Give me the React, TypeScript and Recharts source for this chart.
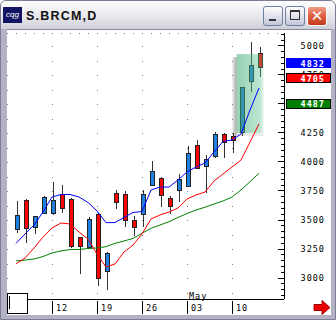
import React from 'react';
import { ComposedChart, Bar, Line, XAxis, YAxis, CartesianGrid, ReferenceArea, ReferenceLine } from 'recharts';

// daily bars, Apr 5 - May 13
const dates = [
  '04-05', '04-06', '04-07', '04-08',
  '04-12', '04-13', '04-14', '04-15', '04-16',
  '04-19', '04-20', '04-21', '04-22', '04-23',
  '04-26', '04-27', '04-28', '04-29', '04-30',
  '05-03', '05-04', '05-05', '05-06', '05-07',
  '05-10', '05-11', '05-12', '05-13',
];
const opens = [3420, 3666, 3437, 3558, 3552, 3718, 3678, 3351, 3265, 3549, 3052, 3730, 3724, 3500, 3546, 3799, 3862, 3684, 3753, 3787, 4138, 3960, 4046, 4241, 4220, 4256, 4690, 4937];
const highs = [3666, 3681, 3534, 3710, 3830, 3802, 3687, 3355, 3529, 3563, 3227, 3759, 3753, 3534, 3759, 4009, 3870, 3707, 3897, 4138, 4190, 4060, 4261, 4247, 4247, 4645, 5037, 4994];
const lows = [3391, 3299, 3379, 3552, 3543, 3558, 3256, 3037, 3247, 2931, 2897, 3592, 3437, 3362, 3437, 3793, 3615, 3552, 3658, 3782, 3940, 3730, 4032, 4032, 4075, 4224, 4601, 4730];
const closes = [3543, 3428, 3529, 3696, 3666, 3601, 3270, 3270, 3506, 2994, 3213, 3651, 3494, 3437, 3724, 3920, 3713, 3615, 3851, 4075, 3946, 4023, 4241, 4170, 4185, 4641, 4830, 4816];
const maFast = [3299, 3379, 3457, 3569, 3698, 3720, 3720, 3698, 3651, 3578, 3477, 3478, 3522, 3565, 3573, 3759, 3784, 3784, 3845, 3914, 3957, 3991, 4086, 4177, 4190, 4241, 4448, 4638];
const maMid = [3121, 3172, 3259, 3353, 3431, 3474, 3466, 3397, 3336, 3207, 3095, 3121, 3224, 3284, 3379, 3509, 3543, 3569, 3603, 3681, 3716, 3741, 3836, 3897, 3957, 4017, 4172, 4328];
const maSlow = [3147, 3155, 3164, 3185, 3216, 3233, 3246, 3246, 3254, 3259, 3270, 3299, 3319, 3341, 3385, 3428, 3457, 3485, 3522, 3556, 3586, 3610, 3638, 3664, 3698, 3759, 3830, 3903];

const weekTicks = ['04-12', '04-19', '04-26', '05-03', '05-10'];
const monthLabels: Record<string, string> = { '05-03': 'May' };
const majorTicks = [3000, 3250, 3500, 3750, 4000, 4250, 4500, 4750, 5000];
const minorTicks = [
  2850, 2900, 2950, 3000, 3050, 3100, 3150, 3200, 3250, 3300, 3350, 3400, 3450, 3500, 3550, 3600,
  3650, 3700, 3750, 3800, 3850, 3900, 3950, 4000, 4050, 4100, 4150, 4200, 4250, 4300, 4350, 4400,
  4450, 4500, 4550, 4600, 4650, 4700, 4750, 4800, 4850, 4900, 4950, 5000, 5050, 5100,
];
const tagValues = [4832, 4705, 4487];
const tagColors = ['#0000ff', '#ff0000', '#008000'];
const tagBorders = ['#0000ff', '#000000', '#000000'];

const rows = dates.map((d, i) => ({
  d, o: opens[i], h: highs[i], l: lows[i], c: closes[i],
  fast: maFast[i], mid: maMid[i], slow: maSlow[i],
}));

const MONO = '"DejaVu Sans Mono", monospace';

function Candle(props: any) {
  const { x, y, width, height, payload } = props;
  const { o, h, l, c } = payload;
  const top = Math.min(y, y + height);
  const hh = Math.abs(height);
  const cx = Math.round(x + width / 2) + 0.5;
  const span = h - l || 1;
  const toY = (v: number) => top + ((h - v) / span) * hh;
  const b1 = toY(Math.max(o, c));
  const b2 = toY(Math.min(o, c));
  return (
    <g shapeRendering="crispEdges">
      <line x1={cx} x2={cx} y1={top} y2={top + hh} stroke="#333" />
      <rect x={cx - 2} y={b1} width={4} height={Math.max(b2 - b1, 1)} fill={c >= o ? '#1f80e4' : '#ff0000'} stroke="#222" />
    </g>
  );
}

function PriceTick(props: any) {
  const { x, y, payload } = props;
  const major = payload.value % 250 === 0;
  return (
    <g>
      <line x1={x - (major ? 6 : 3)} x2={x} y1={y} y2={y} stroke="#000" shapeRendering="crispEdges" />
      {major && (
        <text x={x + 41} y={y + 3} textAnchor="end" fontFamily={MONO} fontSize={8.5} letterSpacing={1} fill="#000">
          {payload.value}
        </text>
      )}
    </g>
  );
}

function LeftTick(props: any) {
  const { x, y, payload } = props;
  const major = payload.value % 250 === 0;
  return <line x1={x} x2={x + (major ? 6 : 3)} y1={y} y2={y} stroke="#000" shapeRendering="crispEdges" />;
}

function DateTick(props: any) {
  const { x, y, payload } = props;
  const day = payload.value.slice(3);
  const month = monthLabels[payload.value];
  return (
    <g>
      <line x1={x} x2={x} y1={y} y2={y + 13} stroke="#000" shapeRendering="crispEdges" />
      <text x={x + 4} y={y + 10} fontFamily={MONO} fontSize={8.5} letterSpacing={1} fill="#000">{day}</text>
      {month && (
        <text x={x + 2} y={y - 2} fontFamily={MONO} fontSize={8.5} letterSpacing={1} fill="#000">{month}</text>
      )}
    </g>
  );
}

function Tag(props: any, value: number, fill: string, border: string) {
  const right = Math.max(props.x1, props.x2);
  const yy = props.y1;
  return (
    <g>
      <rect x={right + 2.5} y={yy - 6.5} width={44} height={9} fill={fill} stroke={border} shapeRendering="crispEdges" />
      <text x={right + 41} y={yy + 1.5} textAnchor="end" fontFamily={MONO} fontSize={8.5} fontWeight="bold" letterSpacing={1} fill="#fff">
        {value}
      </text>
    </g>
  );
}

function Highlight(props: any) {
  const { x, y, width, height } = props;
  return (
    <g>
      <rect x={x - 5} y={y + 3} width={5} height={height} fill="url(#hlShadow)" />
      <rect x={x} y={y + height} width={width} height={3} fill="#000" opacity={0.08} />
      <rect x={x} y={y} width={width} height={height} fill="url(#hlFill)" />
    </g>
  );
}

const btn: React.CSSProperties = {
  position: 'absolute', top: 5, width: 20, height: 20, boxSizing: 'border-box',
  border: '1px solid #6f7ea6', borderRadius: 3,
  background: 'linear-gradient(#ffffff, #dcdde8 60%, #c4c6d6)',
};

export default function App() {
  return (
    <div style={{ position: 'absolute', left: 0, top: 0, width: 336, height: 320, overflow: 'hidden', background: '#b2b2c4', boxSizing: 'border-box', border: '1px solid #7c7c94', borderRadius: '6px 6px 0 0' }}>
      {/* title bar */}
      <div style={{ position: 'absolute', left: 0, top: 0, width: 334, height: 28, background: 'linear-gradient(#fdfdfd, #ececf0 45%, #cfcfd8)' }} />
      <div style={{ position: 'absolute', left: 2, top: 6, width: 19, height: 16, background: '#141464', color: '#fff', fontFamily: 'Liberation Sans, sans-serif', fontSize: 8, fontStyle: 'italic', lineHeight: '16px', textAlign: 'center' }}>cqg</div>
      <div style={{ position: 'absolute', left: 25, top: 8, fontFamily: '"Liberation Sans", Arial, sans-serif', fontWeight: 'bold', fontSize: 12.5, letterSpacing: 1.2, color: '#111' }}>S.BRCM,D</div>
      <div style={{ ...btn, left: 262 }}>
        <div style={{ position: 'absolute', left: 5, top: 12, width: 7, height: 2, background: '#333' }} />
      </div>
      <div style={{ ...btn, left: 284 }}>
        <div style={{ position: 'absolute', left: 4, top: 3, width: 10, height: 10, boxSizing: 'border-box', border: '1px solid #333', borderTopWidth: 2 }} />
      </div>
      <div style={{ ...btn, left: 306, border: '1px solid #ffffff', background: 'linear-gradient(#f19b86, #de5a3a 55%, #c23a1e)', color: '#fff', fontFamily: '"DejaVu Sans", sans-serif', fontSize: 15, fontWeight: 'bold', lineHeight: '18px', textAlign: 'center' }}>✕</div>

      {/* client area */}
      <div style={{ position: 'absolute', left: 6, top: 28, width: 324, height: 285, background: '#fff', borderTop: '1px solid #8a8aa0' }} />

      <div style={{ position: 'absolute', left: -1, top: -1 }}>
        <ComposedChart width={336} height={320} data={rows} margin={{ top: 33, right: 6, bottom: 6, left: 7 }}>
          <defs>
            <linearGradient id="hlFill" x1="0" y1="0" x2="1" y2="0">
              <stop offset="0%" stopColor="#3fa772" stopOpacity={0.55} />
              <stop offset="85%" stopColor="#55c08a" stopOpacity={0.4} />
              <stop offset="100%" stopColor="#7fd3a6" stopOpacity={0.25} />
            </linearGradient>
            <linearGradient id="hlShadow" x1="0" y1="0" x2="1" y2="0">
              <stop offset="0%" stopColor="#000" stopOpacity={0} />
              <stop offset="100%" stopColor="#000" stopOpacity={0.35} />
            </linearGradient>
          </defs>
          <CartesianGrid
            yAxisId="g"
            horizontal={(p: any) => (
              <line key={p.key} x1={p.x1} y1={p.y1} x2={p.x2} y2={p.y2} stroke="#808080" strokeDasharray="1 8" shapeRendering="crispEdges" />
            )}
            vertical={(p: any) => (
              <line key={p.key} x1={p.x1} y1={p.y1} x2={p.x2} y2={p.y2} stroke="#808080" strokeDasharray="1 13.5" strokeDashoffset={1.5} shapeRendering="crispEdges" />
            )}
          />
          <XAxis
            dataKey="d"
            ticks={weekTicks}
            interval={0}
            padding={{ left: 4.5, right: 20.5 }}
            height={15}
            tickSize={0}
            tickLine={false}
            axisLine={{ stroke: '#000', shapeRendering: 'crispEdges' }}
            tick={<DateTick />}
          />
          <XAxis xAxisId="top" dataKey="d" orientation="top" height={0} tick={false} tickLine={false} axisLine={{ stroke: '#000', shapeRendering: 'crispEdges' }} />
          <YAxis
            orientation="right"
            domain={[2819, 5112]}
            allowDataOverflow
            ticks={minorTicks}
            interval={0}
            width={46}
            tickSize={0}
            tickMargin={0}
            tickLine={false}
            axisLine={{ stroke: '#000', shapeRendering: 'crispEdges' }}
            tick={<PriceTick />}
          />
          <YAxis
            yAxisId="l"
            orientation="left"
            domain={[2819, 5112]}
            allowDataOverflow
            ticks={minorTicks}
            interval={0}
            width={0}
            tickSize={0}
            tickMargin={0}
            tickLine={false}
            axisLine={{ stroke: '#000', shapeRendering: 'crispEdges' }}
            tick={<LeftTick />}
          />
          <YAxis
            yAxisId="g"
            orientation="left"
            domain={[2819, 5112]}
            allowDataOverflow
            ticks={majorTicks}
            interval={0}
            width={0}
            tick={false}
            tickLine={false}
            axisLine={false}
          />
          <Bar dataKey={(r: any) => [r.l, r.h]} barSize={6} shape={<Candle />} isAnimationActive={false} />
          <ReferenceArea x1="05-11" x2="05-13" y1={4250} y2={4930} zIndex={350} shape={<Highlight />} ifOverflow="visible" />
          <Line dataKey="slow" stroke="#008000" strokeWidth={1} dot={false} activeDot={false} isAnimationActive={false} />
          <Line dataKey="mid" stroke="#ff0000" strokeWidth={1} dot={false} activeDot={false} isAnimationActive={false} />
          <Line dataKey="fast" stroke="#0000ff" strokeWidth={1} dot={false} activeDot={false} isAnimationActive={false} />
          {tagValues.map((v, i) => (
            <ReferenceLine
              key={v}
              y={v}
              zIndex={3000}
              shape={(p: any) => Tag(p, v, tagColors[i], tagBorders[i])}
            />
          ))}
        </ComposedChart>
      </div>

      {/* cursor box and scroll arrow */}
      <div style={{ position: 'absolute', left: 6, top: 292, width: 21, height: 21, boxSizing: 'border-box', background: '#fff', border: '1px solid #000' }}>
        <div style={{ position: 'absolute', left: 1, top: 2, width: 1, height: 13, background: '#000' }} />
      </div>
      <svg style={{ position: 'absolute', left: 312, top: 299 }} width={18} height={15}>
        <polygon points="1,4.5 9,4.5 9,0.5 17,7.5 9,14.5 9,10.5 1,10.5" fill="#ee0000" stroke="#a00000" strokeWidth={1} />
      </svg>
    </div>
  );
}
